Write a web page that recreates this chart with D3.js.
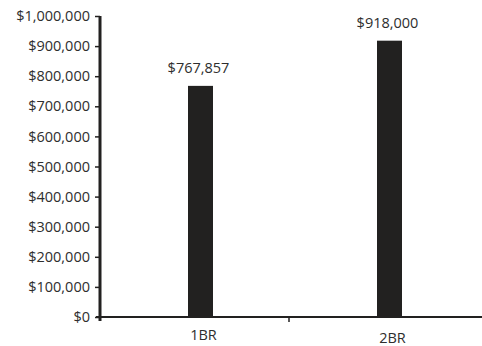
<!DOCTYPE html>
<html>
<head>
<meta charset="utf-8">
<script src="https://cdn.jsdelivr.net/npm/d3@7"></script>
<style>
  html, body { margin: 0; padding: 0; background: #fff; }
  svg text { font-family: "Open Sans", Lato, sans-serif; fill: #2e2e2e; }
</style>
</head>
<body>
<svg id="chart" width="482" height="346"></svg>
<script>
// Median prices by unit type
const categories = ["1BR", "2BR"];
const prices = [767857, 918000];
const yTicks = [0, 100000, 200000, 300000, 400000, 500000, 600000, 700000, 800000, 900000, 1000000];

(function () {
const svg = d3.select("#chart");
const plotLeft = 100, plotRight = 478, plotTop = 16, plotBottom = 317;
const fontSize = "14.5px";

const x = d3.scaleBand().domain(categories).range([plotLeft, plotRight]).paddingInner(0).paddingOuter(0);
const y = d3.scaleLinear().domain([0, 1000000]).range([plotBottom, plotTop]);

const fmt = v => "$" + d3.format(",")(v);
const ink = "#222120";
const barW = 25;
const barShift = 6;

// y axis
const yAxis = d3.axisLeft(y).tickValues(yTicks).tickFormat(fmt).tickSize(5).tickPadding(5);
const gy = svg.append("g").attr("transform", `translate(${plotLeft},0)`).call(yAxis);
gy.select(".domain").remove();
gy.selectAll(".tick line").attr("stroke", ink).attr("stroke-width", 1.5);
gy.selectAll(".tick text").style("font-size", fontSize).attr("fill", "#2e2e2e");
svg.append("line")
  .attr("x1", plotLeft).attr("x2", plotLeft)
  .attr("y1", plotTop).attr("y2", plotBottom + 4)
  .attr("stroke", ink).attr("stroke-width", 3);

// bars
svg.append("g").selectAll("rect")
  .data(categories)
  .join("rect")
  .attr("x", (d) => x(d) + x.bandwidth() / 2 + barShift - barW / 2)
  .attr("y", (d, i) => y(prices[i]))
  .attr("width", barW)
  .attr("height", (d, i) => y(0) - y(prices[i]))
  .attr("fill", ink);

// value labels
svg.append("g").selectAll("text")
  .data(categories)
  .join("text")
  .attr("x", (d) => x(d) + x.bandwidth() / 2 + barShift - 2)
  .attr("y", (d, i) => y(prices[i]) - 13)
  .attr("text-anchor", "middle")
  .style("font-size", fontSize)
  .text((d, i) => fmt(prices[i]));

// x axis
svg.append("line")
  .attr("x1", plotLeft - 4).attr("x2", 482)
  .attr("y1", plotBottom).attr("y2", plotBottom)
  .attr("stroke", ink).attr("stroke-width", 2);
const bounds = categories.slice(1).map(c => x(c));
svg.append("g").selectAll("line")
  .data(bounds)
  .join("line")
  .attr("x1", d => d).attr("x2", d => d)
  .attr("y1", plotBottom).attr("y2", plotBottom + 5)
  .attr("stroke", ink).attr("stroke-width", 1.5);

// category labels
svg.append("g").selectAll("text")
  .data(categories)
  .join("text")
  .attr("x", (d) => x(d) + x.bandwidth() / 2 + barShift + 3)
  .attr("y", (d, i) => i === 0 ? 340 : 343)
  .attr("text-anchor", "middle")
  .style("font-size", fontSize)
  .text(d => d);
})();
</script>
</body>
</html>
